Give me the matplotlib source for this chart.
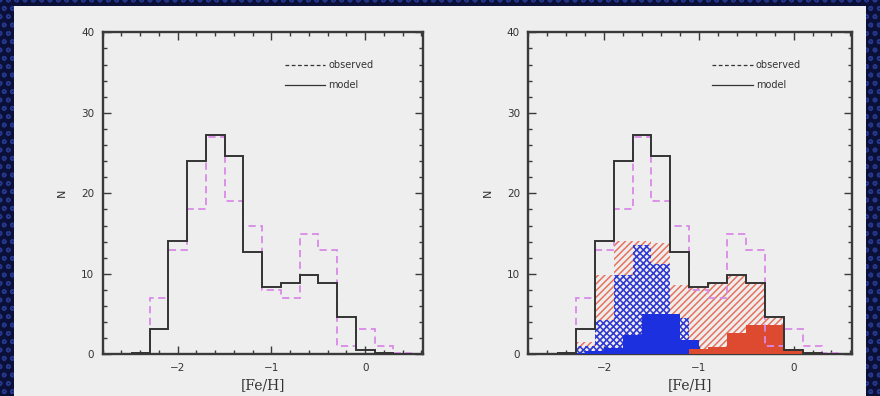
import numpy as np
import matplotlib
matplotlib.use("Agg")
import matplotlib.pyplot as plt
from matplotlib.patches import Rectangle
from matplotlib.lines import Line2D
from matplotlib.ticker import MultipleLocator

# ---- data ----
edges_main = [-2.5, -2.3, -2.1, -1.9, -1.7, -1.5, -1.3, -1.1, -0.9, -0.7, -0.5, -0.3, -0.1, 0.1, 0.3, 0.5]
observed = [0.2, 7.0, 13.0, 18.0, 27.0, 19.0, 16.0, 8.0, 7.0, 15.0, 13.0, 1.0, 3.1, 1.0, 0.1]
model = [0.2, 3.1, 14.1, 24.0, 27.2, 24.6, 12.7, 8.3, 8.9, 9.8, 8.9, 4.6, 0.5, 0.1, 0.0]

red_hatch = [0.2, 1.5, 9.8, 14.1, 14.1, 13.8, 8.6, 8.3, 8.9, 9.7, 8.9, 4.5, 0.6, 0.1, 0.0]
blue_hatch = [0.2, 1.0, 4.3, 9.8, 13.6, 11.2, 4.5, 0.3, 0.0, 0.0, 0.0, 0.0, 0.0, 0.0, 0.0]

edges_blue_solid = [-2.4, -2.2, -2.0, -1.8, -1.6, -1.4, -1.2, -1.0, -0.8]
blue_solid = [0.2, 0.4, 0.8, 2.4, 5.0, 5.0, 1.8, 0.2]

edges_red_solid = [-1.1, -0.9, -0.7, -0.5, -0.3, -0.1, 0.1, 0.3]
red_solid = [0.6, 0.95, 2.6, 3.6, 3.6, 0.7, 0.15]

x_ticks = [-2, -1, 0]
y_ticks = [0, 10, 20, 30, 40]
legend_labels = ["observed", "model"]

# ---- style ----
plt.rcParams["hatch.linewidth"] = 1.1
OBS_C = "#d98ae8"
MOD_C = "#333333"
FRAME_C = "#3a3a3a"
BG = "#eeeeee"

fig = plt.figure(figsize=(8.8, 3.96), dpi=100)
fig.patch.set_facecolor("#0b1038")
# textured dark border
fig.patches.append(Rectangle((0, 0), 1, 1, transform=fig.transFigure,
                             facecolor="#0b1038", edgecolor="#25378a",
                             hatch="oo", linewidth=0, zorder=-3))
# light gray panel
fig.patches.append(Rectangle((14 / 880, 0), (866 - 14) / 880, (396 - 6) / 396,
                             transform=fig.transFigure, facecolor=BG,
                             edgecolor="none", zorder=-2))

ax1 = fig.add_axes([102.7 / 880, 1 - 354.3 / 396, 320.6 / 880, 322 / 396])
ax2 = fig.add_axes([528.3 / 880, 1 - 354.3 / 396, 324.0 / 880, 322 / 396])

for ax in (ax1, ax2):
    ax.set_facecolor(BG)
    ax.set_xlim(-2.8, 0.62)
    ax.set_ylim(0, 40)
    ax.set_xticks(x_ticks)
    ax.set_xticklabels(["\u22122", "\u22121", "0"])
    ax.set_yticks(y_ticks)
    ax.xaxis.set_minor_locator(MultipleLocator(0.2))
    ax.yaxis.set_minor_locator(MultipleLocator(2))
    ax.tick_params(which="both", direction="in", top=True, right=True,
                   color=FRAME_C, labelcolor="#333333", labelsize=7.5, width=1.0)
    ax.tick_params(which="major", length=6, pad=6)
    ax.tick_params(which="minor", length=3)
    for s in ax.spines.values():
        s.set_linewidth(1.7)
        s.set_color(FRAME_C)
    ax.set_xlabel("[Fe/H]", family="DejaVu Serif", fontsize=10, color="#333333", labelpad=4)
    ax.set_ylabel("N", fontsize=8, color="#333333", labelpad=10)

# right panel components
ax2.stairs(red_hatch, edges_main, fill=True, facecolor="none", edgecolor="#e8725e",
           hatch="/////", linewidth=0, zorder=1)
ax2.stairs(blue_hatch, edges_main, fill=True, facecolor="none", edgecolor="#2a3ad8",
           hatch="xxxxx", linewidth=0, zorder=2)
ax2.stairs(blue_solid, edges_blue_solid, fill=True, facecolor="#1c30e0",
           edgecolor="none", linewidth=0, zorder=3)
ax2.stairs(red_solid, edges_red_solid, fill=True, facecolor="#de4a30",
           edgecolor="none", linewidth=0, zorder=3)

for ax in (ax1, ax2):
    ax.stairs(observed, edges_main, color=OBS_C, linestyle=(0, (4, 2.5)),
              linewidth=1.3, baseline=None, zorder=4)
    ax.stairs(model, edges_main, color=MOD_C, linewidth=1.4, baseline=None, zorder=5)
    handles = [Line2D([], [], color=MOD_C, linestyle=(0, (3, 2)), linewidth=0.9),
               Line2D([], [], color=MOD_C, linewidth=0.9)]
    ax.legend(handles, legend_labels, loc="upper left", bbox_to_anchor=(0.54, 0.94),
              frameon=False, fontsize=7, handlelength=4.2, handletextpad=0.3,
              labelspacing=1.0, labelcolor="#333333")

fig.savefig("out.png", dpi=100, facecolor=fig.get_facecolor())
